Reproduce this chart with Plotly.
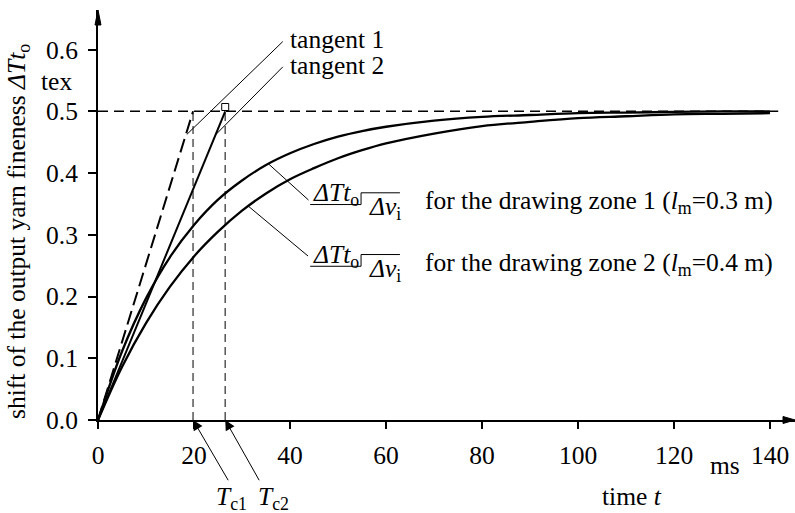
import plotly.graph_objects as go

# Time samples (ms)
time_ms = [0, 5, 10, 15, 20, 25, 30, 35, 40, 45, 50, 55, 60, 70, 80, 90, 100, 110, 120, 130, 140]
# Shift of output yarn fineness (tex), drawing zone 1 (l_m = 0.3 m)
shift_zone1 = [0.000, 0.111, 0.197, 0.264, 0.316, 0.357, 0.388, 0.413, 0.432, 0.447, 0.459,
               0.468, 0.475, 0.485, 0.491, 0.494, 0.497, 0.498, 0.499, 0.500, 0.500]
# Shift of output yarn fineness (tex), drawing zone 2 (l_m = 0.4 m)
shift_zone2 = [0.000, 0.086, 0.157, 0.216, 0.265, 0.305, 0.339, 0.367, 0.390, 0.408, 0.424,
               0.437, 0.448, 0.464, 0.476, 0.483, 0.489, 0.492, 0.495, 0.496, 0.497]

steady_state = 0.5      # final fineness shift (tex)
steady_end = 141.7      # end of the steady-state guide (ms)
tc1 = 19.8              # time constant, zone 1 (ms)
tc2 = 26.5              # time constant, zone 2 (ms)

x_ticks = [0, 20, 40, 60, 80, 100, 120, 140]
y_ticks = [0.0, 0.1, 0.2, 0.3, 0.4, 0.5, 0.6]
y_tick_labels = ["0.0", "0.1", "0.2", "0.3", "0.4", "0.5", "0.6"]

FONT = "Liberation Serif"
FS = 25.5
X_MAX = 145.2
Y_MAX = 0.6641

fig = go.Figure()

# steady-state guide
fig.add_trace(go.Scatter(x=[0, steady_end], y=[steady_state, steady_state], mode="lines",
                         line=dict(color="black", width=1.5, dash="10px,6px"), hoverinfo="skip"))
# time-constant drop lines
for tc in (tc1, tc2):
    fig.add_trace(go.Scatter(x=[tc, tc], y=[0, steady_state], mode="lines",
                             line=dict(color="#555555", width=1.5, dash="8px,5px"), hoverinfo="skip"))
# tangent 1 (dashed) and tangent 2 (solid)
fig.add_trace(go.Scatter(x=[0, tc1], y=[0, steady_state], mode="lines",
                         line=dict(color="black", width=2, dash="14px,6px"), hoverinfo="skip"))
fig.add_trace(go.Scatter(x=[0, tc2], y=[0, steady_state], mode="lines",
                         line=dict(color="black", width=2), hoverinfo="skip"))
fig.add_trace(go.Scatter(x=[tc2], y=[steady_state + 0.007], mode="markers",
                         marker=dict(symbol="square-open", size=7, color="black", line=dict(width=1)),
                         hoverinfo="skip"))
# step responses
fig.add_trace(go.Scatter(x=time_ms, y=shift_zone1, mode="lines", line_shape="spline",
                         line=dict(color="black", width=2.3)))
fig.add_trace(go.Scatter(x=time_ms, y=shift_zone2, mode="lines", line_shape="spline",
                         line=dict(color="black", width=2.3)))

ann = []
lines = []

def leader(x0, y0, x1, y1):
    lines.append(dict(type="line", xref="x", yref="y", x0=x0, y0=y0, x1=x1, y1=y1,
                      line=dict(color="black", width=1)))

# tangent labels
leader(18.5, 0.4625, 38.5, 0.613)
leader(24.5, 0.462, 38.5, 0.572)
ann.append(dict(x=39.5, y=0.617, text="tangent 1", xanchor="left", yanchor="middle", showarrow=False))
ann.append(dict(x=39.5, y=0.574, text="tangent 2", xanchor="left", yanchor="middle", showarrow=False))

# curve labels
leader(35.5, 0.415, 43.85, 0.3563)
leader(31.3, 0.3465, 43.75, 0.2656)
for k, (zone, lm) in enumerate([("1", "0.3"), ("2", "0.4")]):
    dy = -0.1 * k
    ann.append(dict(x=44.3, y=0.366 + dy, text="<i>ΔTt</i><sub>o</sub>", xanchor="left",
                    yanchor="middle", showarrow=False))
    ann.append(dict(x=56.0, y=0.343 + dy, text="<i>Δv</i><sub>i</sub>", xanchor="left",
                    yanchor="middle", showarrow=False))
    ann.append(dict(x=67.7, y=0.3525 + dy,
                    text=f"for the drawing zone {zone} (<i>l</i><sub>m</sub>={lm} m)",
                    xanchor="left", yanchor="middle", showarrow=False))
    lines.append(dict(type="path", xref="x", yref="y",
                      path=f"M44.2,{0.349 + dy} L54.8,{0.349 + dy} L54.8,{0.368 + dy} L62.9,{0.368 + dy}",
                      line=dict(color="black", width=1)))

# time-constant markers below the axis
for tc, tail_x, label_x, name in [(tc1, 27.3, 27.9, "c1"), (tc2, 33.75, 36.5, "c2")]:
    ann.append(dict(x=tc, y=0, ax=tail_x, ay=-0.1, axref="x", ayref="y", text="",
                    showarrow=True, arrowhead=2, arrowsize=2, arrowwidth=1, arrowcolor="black"))
    ann.append(dict(x=label_x, yref="paper", y=-0.19, text=f"<i>T</i><sub>{name}</sub>",
                    showarrow=False, xanchor="center", yanchor="middle"))

# units and axis titles
ann.append(dict(x=130.6, yref="paper", y=-0.1098, text="ms", showarrow=False,
                xanchor="center", yanchor="middle"))
ann.append(dict(x=111.25, yref="paper", y=-0.1878, text="time <i>t</i>", showarrow=False,
                xanchor="center", yanchor="middle"))
ann.append(dict(xref="paper", x=-0.0344, y=0.5475, text="tex", xanchor="right",
                yanchor="middle", showarrow=False))
ann.append(dict(xref="paper", x=-0.1148, yref="paper", y=0.461, textangle=-90,
                xanchor="center", yanchor="middle",
                text="shift of the output yarn fineness <i>ΔTt</i><sub>o</sub>", showarrow=False))

# axis arrowheads
lines.append(dict(type="path", xref="paper", yref="paper", path="M0,1 L-0.0043,0.9634 L0.0043,0.9634 Z",
                  fillcolor="black", line=dict(color="black", width=1)))
lines.append(dict(type="path", xref="paper", yref="paper",
                  path="M1,0 L0.9828,0.0085 L0.9828,-0.0085 Z",
                  fillcolor="black", line=dict(color="black", width=1)))

fig.update_layout(
    width=795, height=513,
    margin=dict(l=98, r=0, t=10, b=93),
    paper_bgcolor="white", plot_bgcolor="white",
    showlegend=False,
    font=dict(family=FONT, size=FS, color="black"),
    annotations=ann, shapes=lines,
    xaxis=dict(range=[0, X_MAX], tickvals=x_ticks, ticks="outside", ticklen=7, tickwidth=2,
               tickcolor="black", showline=True, linewidth=2, linecolor="black",
               showgrid=False, zeroline=False, ticklabelstandoff=4,
               tickfont=dict(family=FONT, size=FS)),
    yaxis=dict(range=[0, Y_MAX], tickvals=y_ticks, ticktext=y_tick_labels, ticks="outside",
               ticklen=8, tickwidth=2, tickcolor="black", showline=True, linewidth=2,
               linecolor="black", showgrid=False, zeroline=False, ticklabelstandoff=5,
               tickfont=dict(family=FONT, size=FS)),
)

fig.write_html("out.html")
